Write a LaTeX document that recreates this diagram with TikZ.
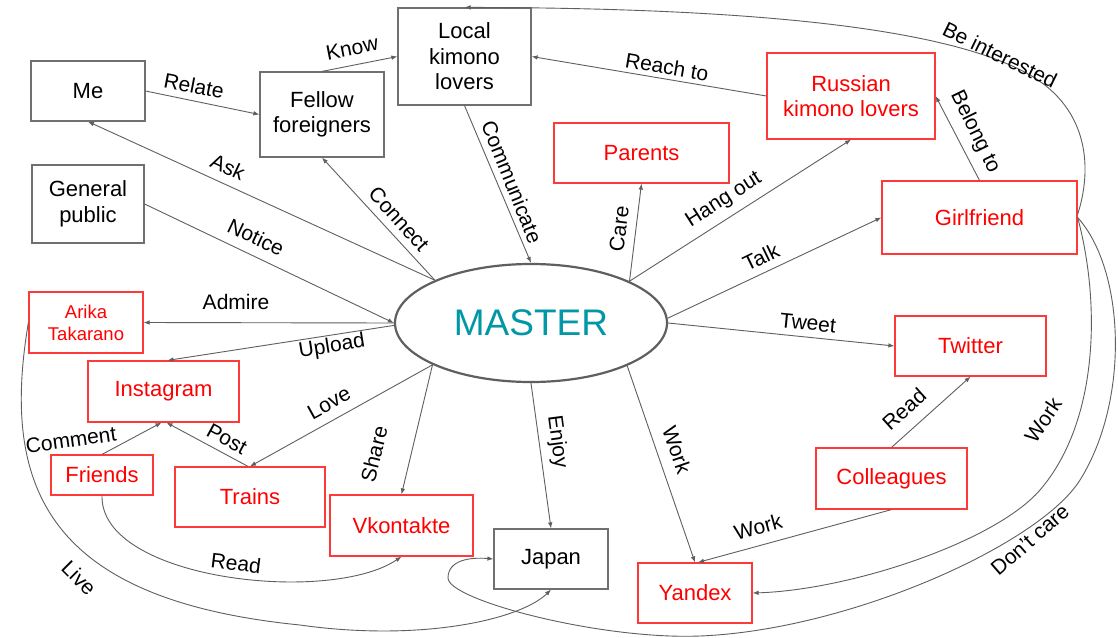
\documentclass[tikz,border=0pt]{standalone}
\usepackage{fontspec}
\setmainfont{Liberation Sans}
\usetikzlibrary{arrows.meta,shapes.geometric}
\definecolor{edgegray}{HTML}{5F5F5F}
\definecolor{boxgray}{HTML}{707070}
\definecolor{hotred}{HTML}{FF0000}
\definecolor{boxred}{HTML}{FF3838}
\definecolor{mastercol}{HTML}{0097A7}
\begin{document}
\begin{tikzpicture}[x=1pt,y=-1pt,
  graybox/.style={draw=boxgray, line width=1.2pt, fill=white, inner sep=0pt, align=center,
    font=\fontsize{22}{25.5}\selectfont, text=black},
  redbox/.style={draw=boxred, line width=1.2pt, fill=white, inner sep=0pt, align=center,
    font=\fontsize{22}{25.5}\selectfont, text=hotred},
  conn/.style={draw=edgegray, line width=0.9pt, -{Latex[length=6pt,width=4.6pt]}},
  lbl/.style={font=\fontsize{21}{24}\selectfont, inner sep=0pt, text=black},
]
\fill[white] (0,0) rectangle (1118,637);
\path[use as bounding box] (0,0) rectangle (1118,637);

% central node
\node[ellipse, draw=edgegray, line width=2.2pt, fill=white, minimum width=272, minimum height=118,
  inner sep=0pt, text=mastercol, font=\fontsize{37}{40}\selectfont] (master) at (531,323) {MASTER};

% black-bordered nodes
\node[graybox, minimum width=114, minimum height=60] (me) at (88,91) {Me};
\node[graybox, minimum width=124, minimum height=85] (fellow) at (322,114.5) {Fellow\\foreigners};
\node[graybox, minimum width=133, minimum height=97] (local) at (464.5,56.5) {Local\\kimono\\lovers};
\node[graybox, minimum width=112, minimum height=78] (gp) at (88,204) {General\\public};
\node[graybox, minimum width=114, minimum height=60] (japan) at (551,559) {Japan};

% red nodes
\node[redbox, minimum width=114, minimum height=61, font=\fontsize{18.5}{22}\selectfont] (arika) at (86,322.5) {Arika\\Takarano};
\node[redbox, minimum width=151, minimum height=61] (insta) at (163.5,391.5) {Instagram};
\node[redbox, minimum width=102, minimum height=40] (friends) at (102,475) {Friends};
\node[redbox, minimum width=150, minimum height=60] (trains) at (250,497) {Trains};
\node[redbox, minimum width=143, minimum height=61] (vk) at (401.5,525.5) {Vkontakte};
\node[redbox, minimum width=114, minimum height=60] (yandex) at (695,593) {Yandex};
\node[redbox, minimum width=151, minimum height=61] (col) at (891.5,478.5) {Colleagues};
\node[redbox, minimum width=151, minimum height=60] (tw) at (970.5,346) {Twitter};
\node[redbox, minimum width=195, minimum height=73] (gf) at (979.5,217.5) {Girlfriend};
\node[redbox, minimum width=168, minimum height=86] (ru) at (851,96) {Russian\\kimono lovers};
\node[redbox, minimum width=175, minimum height=60] (par) at (641.5,153) {Parents};

% straight connectors
\draw[conn] (me.east) -- (fellow.west);
\draw[conn] (fellow.north) -- (local.west);
\draw[conn] (master.156.3) -- (me.south);
\draw[conn] (master.156.3) -- (fellow.south);
\draw[conn] (gp.east) -- (master.180);
\draw[conn] (local.south) -- (master.90);
\draw[conn] (ru.west) -- (local.east);
\draw[conn] (gf.north) -- (ru.east);
\draw[conn] (master.23.9) -- (par.south);
\draw[conn] (master.23.9) -- (ru.south);
\draw[conn] (master.2) -- (gf.west);
\draw[conn] (master.0) -- (tw.west);
\draw[conn] (col.north) -- (tw.south);
\draw[conn] (col.south) -- ([xshift=3pt]yandex.north);
\draw[conn] (master.336.1) -- (yandex.north);
\draw[conn] (master.270) -- (japan.north);
\draw[conn] (master.203.7) -- (vk.north);
\draw[conn] (master.203.7) -- (trains.north);
\draw[conn] ([xshift=-2pt]trains.north) -- ([xshift=3pt]insta.south);
\draw[conn] (friends.north) -- ([xshift=-2pt]insta.south);
\draw[conn] (master.180) -- (arika.east);
\draw[conn] (master.181) -- ([xshift=4pt]insta.north);

% curved connectors
\draw[conn] ([yshift=3pt]gf.east) .. controls (1092,170) and (1090,110) .. (1030,75)
  .. controls (960,35) and (800,8) .. (local.north);
\draw[conn] (gf.east) .. controls (1100,300) and (1100,420) .. (1040,490)
  .. controls (995,542) and (850,590) .. (yandex.east);
\draw[conn] (gf.east) .. controls (1125,270) and (1130,400) .. (1080,480)
  .. controls (1040,544) and (850,630) .. (700,636)
  .. controls (600,640) and (448,600) .. (448,578)
  .. controls (448,560) and (470,557) .. (japan.west);
\draw[conn] (arika.west) .. controls (0,490) and (50,600) .. (300,625)
  .. controls (420,642) and (520,620) .. (japan.south);
\draw[conn] (friends.south) .. controls (100,580) and (330,605) .. (vk.south);

% connector labels
\node[lbl, rotate=-11] (tRelate) at (194,86) {Relate};
\node[lbl, rotate=11] (tKnow) at (352,48) {Know};
\node[lbl, rotate=-25] (tAsk) at (228,167) {Ask};
\node[lbl, rotate=-48] (tConnect) at (399,219) {Connect};
\node[lbl, rotate=-25.3] (tNotice) at (256,237) {Notice};
\node[lbl, rotate=-68] (tCommunicate) at (512,182) {Communicate};
\node[lbl, rotate=-9.6] (tReach) at (667,67) {Reach to};
\node[lbl, rotate=-26] (tInterested) at (1000,55) {Be interested};
\node[lbl, rotate=-64] (tBelong) at (975,132) {Belong to};
\node[lbl, rotate=83] (tCare) at (619,229) {Care};
\node[lbl, rotate=32.5] (tHang) at (724,200) {Hang out};
\node[lbl, rotate=25.8] (tTalk) at (761,257) {Talk};
\node[lbl, rotate=-5.8] (tTweet) at (808,323) {Tweet};
\node[lbl, rotate=42] (tReadTw) at (904,409) {Read};
\node[lbl, rotate=15.4] (tWorkCol) at (758,527) {Work};
\node[lbl, rotate=-71] (tWorkMaster) at (677,450) {Work};
\node[lbl, rotate=56] (tWorkGf) at (1043,420) {Work};
\node[lbl, rotate=41] (tDontCare) at (1030,540) {Don’t care};
\node[lbl, rotate=-82.5] (tEnjoy) at (557,442) {Enjoy};
\node[lbl, rotate=76] (tShare) at (374,454) {Share};
\node[lbl, rotate=29] (tLove) at (329,403) {Love};
\node[lbl, rotate=-28.5] (tPost) at (227,439) {Post};
\node[lbl, rotate=8] (tComment) at (71,440) {Comment};
\node[lbl, rotate=9] (tUpload) at (332,347) {Upload};
\node[lbl] (tAdmire) at (236,302) {Admire};
\node[lbl, rotate=-7] (tReadVk) at (236,563) {Read};
\node[lbl, rotate=-45] (tLive) at (79,578) {Live};
\end{tikzpicture}
\end{document}
